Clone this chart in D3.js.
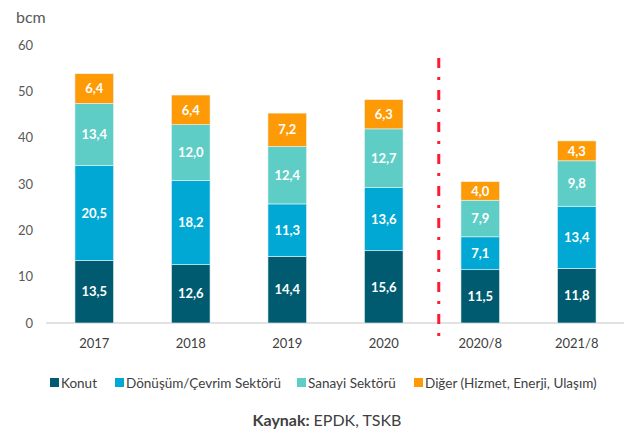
<!DOCTYPE html>
<html>
<head>
<meta charset="utf-8">
<script src="https://cdn.jsdelivr.net/npm/d3@7"></script>
<style>
  body { margin: 0; background: #fff; }
  svg { display: block; font-family: Lato, "Open Sans", sans-serif; }
</style>
</head>
<body>
<svg id="chart"></svg>
<script>
// Kategoriler ve seriler
const categories = ["2017", "2018", "2019", "2020", "2020/8", "2021/8"];
const konut = [13.5, 12.6, 14.4, 15.6, 11.5, 11.8];
const donusum = [20.5, 18.2, 11.3, 13.6, 7.1, 13.4];
const sanayi = [13.4, 12.0, 12.4, 12.7, 7.9, 9.8];
const diger = [6.4, 6.4, 7.2, 6.3, 4.0, 4.3];
const seriesNames = ["Konut", "Dönüşüm/Çevrim Sektörü", "Sanayi Sektörü", "Diğer (Hizmet, Enerji, Ulaşım)"];
const yTicks = [0, 10, 20, 30, 40, 50, 60];

const colors = ["#005b70", "#02a8d4", "#5ecdc6", "#fd9a05"];

const width = 624;
const height = 432;

const svg = d3.select("#chart")
    .attr("width", width)
    .attr("height", height);

const x = d3.scaleBand()
    .domain(categories)
    .range([46, 625])
    .paddingInner(0.6)
    .paddingOuter(0.3);

const y = d3.scaleLinear()
    .domain([0, 60])
    .range([323, 45]);

// tablo
const rows = categories.map((c, i) => ({
    cat: c, s0: konut[i], s1: donusum[i], s2: sanayi[i], s3: diger[i]
}));
const stack = d3.stack().keys(["s0", "s1", "s2", "s3"])(rows);

// birim
svg.append("text")
    .attr("x", 16)
    .attr("y", 23)
    .attr("fill", "#595959")
    .style("font-size", "16px")
    .text("bcm");

// y ekseni etiketleri
svg.append("g")
    .selectAll("text")
    .data(yTicks)
    .join("text")
    .attr("x", 33)
    .attr("y", d => y(d))
    .attr("dy", "0.35em")
    .attr("text-anchor", "end")
    .attr("fill", "#595959")
    .style("font-size", "13px")
    .text(d => d);

// taban çizgisi
svg.append("line")
    .attr("x1", 46).attr("x2", 624)
    .attr("y1", y(0)).attr("y2", y(0))
    .attr("stroke", "#d9d9d9")
    .attr("stroke-width", 1.5);

// çubuklar
const layers = svg.append("g")
    .selectAll("g")
    .data(stack)
    .join("g")
    .attr("fill", (d, i) => colors[i]);

layers.selectAll("rect")
    .data(d => d)
    .join("rect")
    .attr("x", d => x(d.data.cat))
    .attr("width", x.bandwidth())
    .attr("y", d => y(d[1]))
    .attr("height", d => y(d[0]) - y(d[1]))
    .attr("stroke", "#e8f4f6")
    .attr("stroke-width", 0.6);

layers.selectAll("text")
    .data((d, i) => d.map(p => ({ p, v: p.data[d.key] })))
    .join("text")
    .attr("x", d => x(d.p.data.cat) + x.bandwidth() / 2)
    .attr("y", d => (y(d.p[0]) + y(d.p[1])) / 2)
    .attr("dy", "0.36em")
    .attr("text-anchor", "middle")
    .attr("fill", "#fff")
    .style("font-size", "13px")
    .style("font-weight", "bold")
    .text(d => d.v.toFixed(1).replace(".", ","));

// x ekseni etiketleri
svg.append("g")
    .selectAll("text")
    .data(categories)
    .join("text")
    .attr("x", d => x(d) + x.bandwidth() / 2)
    .attr("y", 343)
    .attr("dy", "0.35em")
    .attr("text-anchor", "middle")
    .attr("fill", "#404040")
    .style("font-size", "13px")
    .text(d => d);

// ayırıcı kırmızı çizgi
const sepX = x("2020/8") - 0.23 * x.step();
svg.append("line")
    .attr("x1", sepX).attr("x2", sepX)
    .attr("y1", 58).attr("y2", 346)
    .attr("stroke", "#ff1a35")
    .attr("stroke-width", 3)
    .attr("stroke-dasharray", "10,9,3,10");

// lejant
const legendX = [50, 115, 297, 414];
const legend = svg.append("g")
    .selectAll("g")
    .data(seriesNames)
    .join("g")
    .attr("transform", (d, i) => `translate(${legendX[i]},383)`);

legend.append("rect")
    .attr("y", -5)
    .attr("width", 9)
    .attr("height", 9)
    .attr("fill", (d, i) => colors[i]);

legend.append("text")
    .attr("x", 11)
    .attr("dy", "0.35em")
    .attr("fill", "#404040")
    .style("font-size", "13.5px")
    .text(d => d);

// kaynak
const src = svg.append("text")
    .attr("x", 327)
    .attr("y", 426)
    .attr("text-anchor", "middle")
    .attr("fill", "#404040")
    .style("font-size", "16px");
src.append("tspan").style("font-weight", "bold").text("Kaynak: ");
src.append("tspan").text("EPDK, TSKB");
</script>
</body>
</html>
